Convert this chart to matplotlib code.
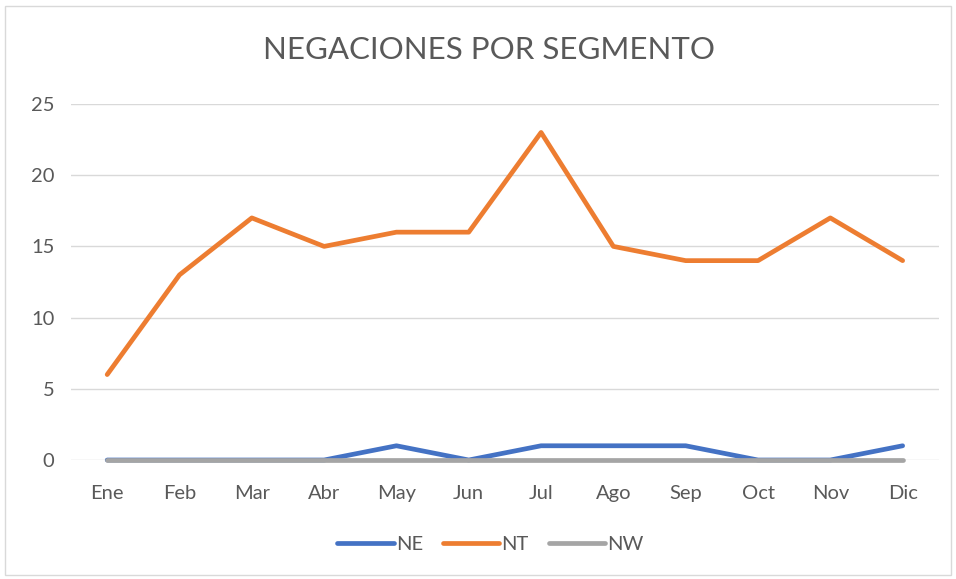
import matplotlib.pyplot as plt
from matplotlib.patches import Rectangle

plt.rcParams['font.family'] = ['Lato', 'DejaVu Sans']

meses = ['Ene', 'Feb', 'Mar', 'Abr', 'May', 'Jun', 'Jul', 'Ago', 'Sep', 'Oct', 'Nov', 'Dic']
ne = [0, 0, 0, 0, 1, 0, 1, 1, 1, 0, 0, 1]
nt = [6, 13, 17, 15, 16, 16, 23, 15, 14, 14, 17, 14]
nw = [0, 0, 0, 0, 0, 0, 0, 0, 0, 0, 0, 0]

series = [('NE', ne, '#4472C4'), ('NT', nt, '#ED7D31'), ('NW', nw, '#A5A5A5')]
txt = '#595959'

fig = plt.figure(figsize=(9.56, 5.79), dpi=100)
ax = fig.add_axes([0.0743, 0.2055, 0.9077, 0.6149])

# chart border
fig.patches.append(Rectangle((0.005, 0.007), 0.99, 0.983, transform=fig.transFigure,
                             fill=False, edgecolor='#D9D9D9', lw=1))

x = list(range(len(meses)))
for name, vals, col in series:
    ax.plot(x, vals, color=col, lw=3.4, solid_capstyle='round', solid_joinstyle='round',
            label=name, clip_on=False)

ax.set_xlim(-0.5, len(meses) - 0.5)
ax.set_ylim(0, 25)
ax.set_yticks([0, 5, 10, 15, 20, 25])
ax.set_xticks(x)
ax.set_xticklabels(meses)
ax.grid(axis='y', color='#D9D9D9', lw=1)
ax.set_axisbelow(True)
for s in ax.spines.values():
    s.set_visible(False)
ax.tick_params(length=0, colors=txt, labelsize=14.5)
ax.tick_params(axis='x', pad=18)
ax.tick_params(axis='y', pad=12)
for lbl in ax.get_yticklabels():
    lbl.set_horizontalalignment('right')

fig.text(0.511, 0.913, 'NEGACIONES POR SEGMENTO', ha='center', va='center', fontsize=22.5, color=txt)

leg = fig.legend(loc='center', bbox_to_anchor=(0.513, 0.06), ncol=3, frameon=False,
                 fontsize=14.5, handlelength=2.8, handletextpad=0.1, columnspacing=1.0,
                 labelcolor=txt)

fig.savefig('out.png', dpi=100)
